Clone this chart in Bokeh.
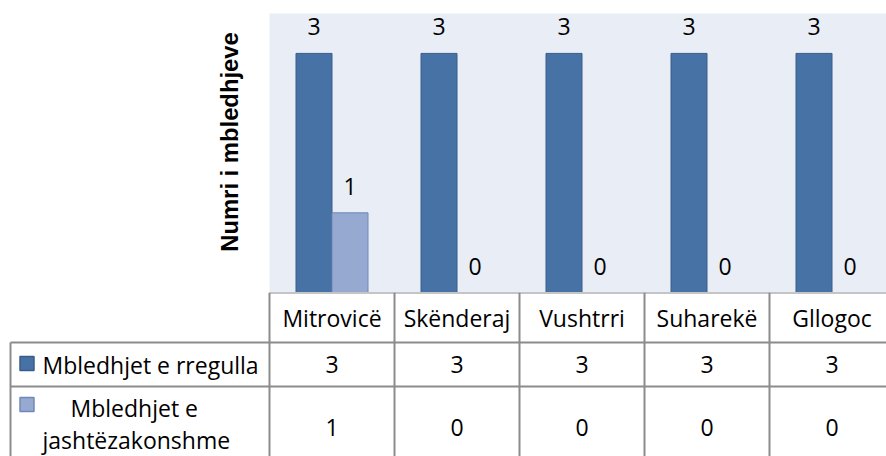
import math
from bokeh.plotting import figure
from bokeh.layouts import column
from bokeh.models import Range1d
from bokeh.core.properties import value
from bokeh.embed import file_html
from bokeh.resources import INLINE

# ---- data ----
categories = ["Mitrovicë", "Skënderaj", "Vushtrri", "Suharekë", "Gllogoc"]
regular = [3, 3, 3, 3, 3]
extraordinary = [1, 0, 0, 0, 0]
series_names = ["Mbledhjet e rregulla", "Mbledhjet e jashtëzakonshme"]
y_title = "Numri i mbledhjeve"
y_max = 3.5

# ---- style ----
DARK, DARK_LINE = "#4672A6", "#385D8A"
LIGHT, LIGHT_LINE = "#96A9D0", "#6F88BB"
BG = "#E9EDF5"
GRID = "#8C8C8C"
FONT = "Open Sans"
FS = "23px"

W = 886
PLOT_LEFT = 269      # px from figure left to plot area
CAT_PX = 125         # px per category
PX_PER_UNIT = 79.7   # px per value unit
CH = 292             # chart figure height
TH = 164             # table figure height
xmin = -PLOT_LEFT / CAT_PX
xmax = (W - PLOT_LEFT) / CAT_PX
bw = 0.288
idx = list(range(len(categories)))
x_dark = [i + 0.5 - bw / 2 for i in idx]
x_light = [i + 0.5 + bw / 2 for i in idx]


def fig(h, yr):
    f = figure(width=W, height=h, x_range=Range1d(xmin, xmax), y_range=yr,
               x_axis_location=None, y_axis_location=None,
               output_backend="svg", toolbar_location=None,
               min_border_left=0, min_border_right=0, min_border_top=0, min_border_bottom=0)
    f.grid.visible = False
    f.outline_line_color = None
    f.background_fill_color = "white"
    f.border_fill_color = "white"
    return f


# ---- chart ----
p = fig(CH, Range1d(0, CH / PX_PER_UNIT))
p.quad(left=[0], right=[xmax], bottom=[0], top=[y_max], fill_color=BG, line_color=None)
p.vbar(x=x_dark, top=regular, width=bw, fill_color=DARK, line_color=DARK_LINE, line_width=1)
p.vbar(x=x_light, top=extraordinary, width=bw, fill_color=LIGHT, line_color=LIGHT_LINE, line_width=1)
p.text(x=x_dark, y=regular, text=[str(v) for v in regular], text_align="center",
       text_baseline="bottom", y_offset=-18, text_font=value(FONT), text_font_size=FS,
       text_color="black")
p.text(x=x_light, y=extraordinary, text=[str(v) for v in extraordinary], text_align="center",
       text_baseline="bottom", y_offset=-18, text_font=value(FONT), text_font_size=FS,
       text_color="black")
p.text(x=[(229 - PLOT_LEFT) / CAT_PX], y=[(CH - 141.5) / PX_PER_UNIT], text=[y_title],
       angle=math.pi / 2, text_align="center", text_baseline="middle",
       text_font=value("Liberation Sans"), text_font_size="23.8px", text_font_style="bold",
       text_color="black")

# ---- data table ----
t = fig(TH, Range1d(TH, 0))
row_edges = [0, 50, 94, 200]
leg_left = (10 - PLOT_LEFT) / CAT_PX
t.segment(x0=[0, leg_left, leg_left], y0=row_edges[:3], x1=[xmax] * 3, y1=row_edges[:3],
          line_color=GRID, line_width=2)
t.segment(x0=idx + [len(idx), leg_left], y0=[0] * (len(idx) + 1) + [row_edges[1]],
          x1=idx + [len(idx), leg_left], y1=[row_edges[3]] * (len(idx) + 2),
          line_color=GRID, line_width=2)

cx = [i + 0.5 for i in idx]
t.text(x=cx, y=[25] * len(idx), text=categories, text_align="center", text_baseline="middle",
       text_font=value(FONT), text_font_size=FS, text_color="black")
t.text(x=cx, y=[72] * len(idx), text=[str(v) for v in regular], text_align="center",
       text_baseline="middle", text_font=value(FONT), text_font_size=FS, text_color="black")
t.text(x=cx, y=[135] * len(idx), text=[str(v) for v in extraordinary], text_align="center",
       text_baseline="middle", text_font=value(FONT), text_font_size=FS, text_color="black")

sq_x = (26.5 - PLOT_LEFT) / CAT_PX
t.scatter(x=[sq_x, sq_x], y=[71, 112], marker="square", size=14,
          fill_color=[DARK, LIGHT], line_color=[DARK_LINE, LIGHT_LINE], line_width=1.5)
line1, line2 = series_names[1].rsplit(" ", 1)
t.text(x=[(42 - PLOT_LEFT) / CAT_PX, (70 - PLOT_LEFT) / CAT_PX, (42 - PLOT_LEFT) / CAT_PX],
       y=[72, 115, 147], text=[series_names[0], line1, line2],
       text_align="left", text_baseline="middle",
       text_font=value(FONT), text_font_size=FS, text_color="black")

layout = column(p, t, spacing=0)
open("out.html", "w").write(file_html(layout, INLINE))
